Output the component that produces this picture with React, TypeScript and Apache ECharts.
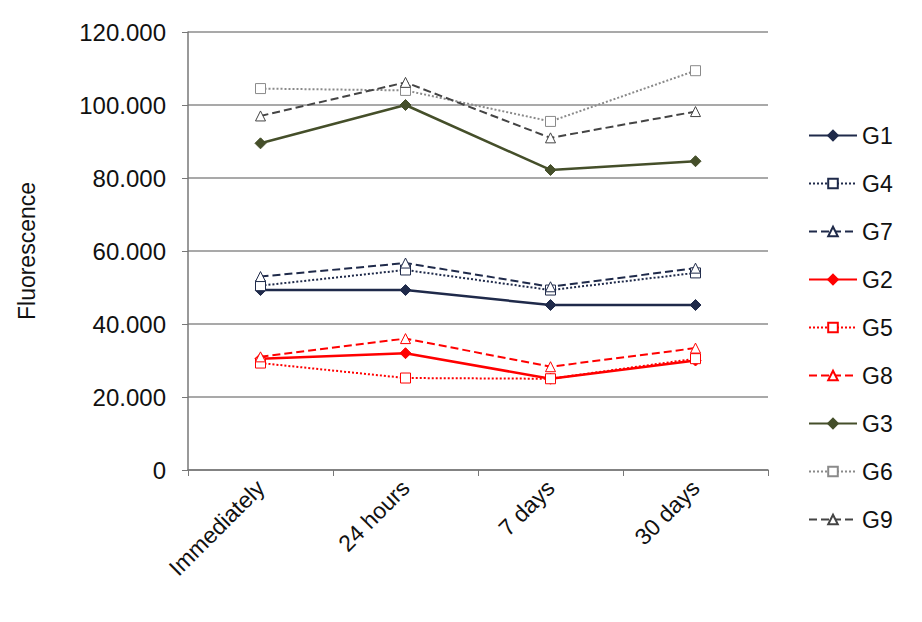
import React, { useEffect, useRef } from 'react'
import * as echarts from 'echarts'

const categories = ['Immediately', '24 hours', '7 days', '30 days']
const g1 = [49.3, 49.3, 45.2, 45.2]
const g4 = [50.5, 54.8, 49.3, 54]
const g7 = [53, 56.7, 50.2, 55.3]
const g2 = [30.5, 32, 25, 30]
const g5 = [29.3, 25.2, 25, 30.5]
const g8 = [31, 36, 28.3, 33.4]
const g3 = [89.5, 100, 82.2, 84.6]
const g6 = [104.5, 104, 95.5, 109.4]
const g9 = [97, 106.2, 91, 98.2]

const NAVY = '#1f2a4a'
const RED = '#ff0000'
const OLIVE = '#454f2a'
const GRAY = '#8a8a8a'

function mk(name: string, data: number[], color: string, kind: 'solid' | 'dotted' | 'dashed') {
  const symbol = kind === 'solid' ? 'diamond' : kind === 'dotted' ? 'rect' : 'triangle'
  return {
    name, type: 'line', data, symbol,
    symbolSize: kind === 'solid' ? 11 : 10,
    lineStyle: { color, width: kind === 'solid' ? 2.5 : 2, type: kind },
    itemStyle: { color: kind === 'solid' ? color : '#fff', borderColor: color, borderWidth: 1 },
  }
}

export default function App() {
  const ref = useRef<HTMLDivElement | null>(null)
  useEffect(() => {
    document.body.style.margin = '0'
    if (!ref.current) return
    const chart = echarts.init(ref.current, null, { renderer: 'svg' })
    chart.setOption({
      animation: false,
      textStyle: { fontFamily: 'Liberation Sans, Arial, sans-serif' },
      grid: { left: 188, right: 154, top: 32, bottom: 152 },
      legend: {
        orient: 'vertical', left: 803, top: 119,
        itemWidth: 48, itemHeight: 12, itemGap: 25,
        textStyle: { fontSize: 23, color: '#111' },
        data: ['G1', 'G4', 'G7', 'G2', 'G5', 'G8', 'G3', 'G6', 'G9'],
      },
      xAxis: {
        type: 'category', data: categories, boundaryGap: true,
        axisLine: { lineStyle: { color: '#777', width: 1.5 } },
        axisTick: { show: true, length: 6, lineStyle: { color: '#777' } },
        axisLabel: { rotate: 45, fontSize: 23, color: '#111', margin: 14 },
      },
      yAxis: {
        type: 'value', min: 0, max: 120, interval: 20,
        name: 'Fluorescence', nameLocation: 'middle', nameGap: 150, nameRotate: 90,
        nameTextStyle: { fontSize: 23, color: '#111' },
        axisLine: { show: true, lineStyle: { color: '#777', width: 1.5 } },
        axisTick: { show: true, length: 6, inside: false, lineStyle: { color: '#777' } },
        axisLabel: { fontSize: 24, color: '#111', margin: 22, formatter: (v: number) => (v === 0 ? '0' : v.toFixed(3)) },
        splitLine: { lineStyle: { color: '#8c8c8c', width: 1.5 } },
      },
      series: [
        mk('G1', g1, NAVY, 'solid'),
        mk('G4', g4, NAVY, 'dotted'),
        mk('G7', g7, NAVY, 'dashed'),
        mk('G2', g2, RED, 'solid'),
        mk('G5', g5, RED, 'dotted'),
        mk('G8', g8, RED, 'dashed'),
        mk('G3', g3, OLIVE, 'solid'),
        mk('G6', g6, GRAY, 'dotted'),
        mk('G9', g9, '#444', 'dashed'),
      ],
    } as any)
    return () => chart.dispose()
  }, [])
  return <div ref={ref} style={{ width: 922, height: 622 }} />
}
